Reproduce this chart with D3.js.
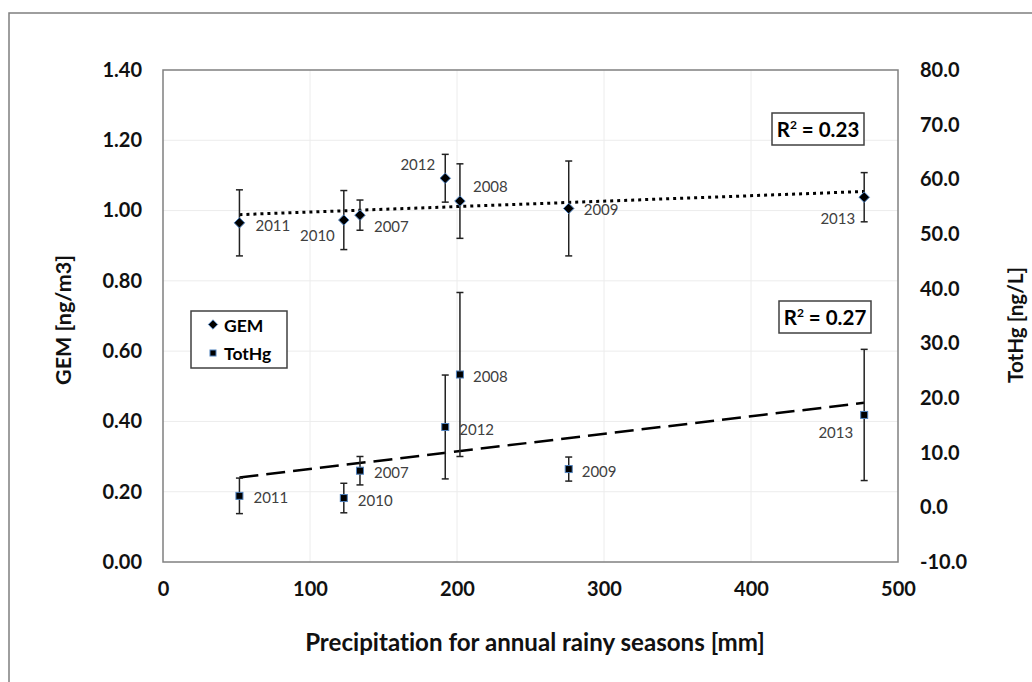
<!DOCTYPE html>
<html><head><meta charset="utf-8">
<script src="https://cdn.jsdelivr.net/npm/d3@7"></script>
<style>html,body{margin:0;padding:0;background:#fff;}svg{display:block;}text{font-variant-ligatures:none;}</style>
</head><body>
<svg id="chart" width="1032" height="682"></svg>
<script>
// ---- data ----
const years   = ["2011","2010","2007","2012","2008","2009","2013"];
const precip  = [52, 123, 134, 192, 202, 276, 477];
const gem     = [0.965, 0.973, 0.987, 1.092, 1.027, 1.006, 1.038];
const gemErr  = [0.094, 0.084, 0.043, 0.068, 0.106, 0.135, 0.070];
const totHg   = [2.1, 1.7, 6.7, 14.7, 24.3, 7.0, 16.9];
const totHgErr= [3.25, 2.7, 2.6, 9.5, 15.0, 2.2, 12.0];
const xTicks  = [0, 100, 200, 300, 400, 500];
const yLeftTicks  = [0, 0.2, 0.4, 0.6, 0.8, 1.0, 1.2, 1.4];
const yRightTicks = [-10, 0, 10, 20, 30, 40, 50, 60, 70, 80];
const r2Labels = ["0.23", "0.27"];
const seriesNames = ["GEM", "TotHg"];

const svg = d3.select("#chart");
const L = 163, R = 898, T = 70, B = 562;
const x = d3.scaleLinear().domain([0, 500]).range([L, R]);
const yL = d3.scaleLinear().domain([0, 1.4]).range([B, T]);
const yR = d3.scaleLinear().domain([-10, 80]).range([B, T]);

const tickFont = "Lato, 'Open Sans', sans-serif";
const blue = "#4f81bd";

// scale a text's font size so that it spans the given width
function fit(sel, w) {
  const fs = parseFloat(sel.attr("font-size"));
  const len = sel.node().getComputedTextLength();
  if (len > 0) sel.attr("font-size", (fs * w / len).toFixed(2) + "px");
  return sel;
}

// outer frame
svg.append("rect").attr("x", 9).attr("y", 13).attr("width", 1040).attr("height", 700)
  .attr("fill", "#fff").attr("stroke", "#7f7f7f").attr("stroke-width", 1.5);

// gridlines
const grid = svg.append("g");
grid.selectAll("line.h").data(yLeftTicks.slice(1, -1)).join("line")
  .attr("x1", L).attr("x2", R).attr("y1", d => yL(d)).attr("y2", d => yL(d))
  .attr("stroke", "#ececec").attr("stroke-width", 1);
grid.selectAll("line.v").data(xTicks.slice(1, -1)).join("line")
  .attr("y1", T).attr("y2", B).attr("x1", d => x(d)).attr("x2", d => x(d))
  .attr("stroke", "#ececec").attr("stroke-width", 1);

// plot border
svg.append("rect").attr("x", L).attr("y", T).attr("width", R - L).attr("height", B - T)
  .attr("fill", "none").attr("stroke", "#808080").attr("stroke-width", 1.5);

// axes via d3 axes (labels only)
const fmt2 = d3.format(".2f"), fmt1 = d3.format(".1f");
const axL = svg.append("g").attr("transform", `translate(${L},0)`)
  .call(d3.axisLeft(yL).tickValues(yLeftTicks).tickFormat(fmt2).tickSize(0).tickPadding(21));
const axR = svg.append("g").attr("transform", `translate(${R},0)`)
  .call(d3.axisRight(yR).tickValues(yRightTicks).tickFormat(d => d === 0 ? "0.0" : fmt1(d).replace("−", "-")).tickSize(0).tickPadding(22));
const axB = svg.append("g").attr("transform", `translate(0,${B})`)
  .call(d3.axisBottom(x).tickValues(xTicks).tickFormat(d3.format("d")).tickSize(0).tickPadding(20));
[axL, axR, axB].forEach(a => {
  a.select(".domain").remove();
  a.selectAll("text").attr("font-family", tickFont).attr("font-weight", "bold")
    .attr("font-size", "20px").attr("fill", "#111");
});

// axis titles
fit(svg.append("text").attr("x", 535).attr("y", 651).attr("text-anchor", "middle")
  .attr("font-family", tickFont).attr("font-weight", "bold").attr("font-size", "20px")
  .attr("fill", "#111").text("Precipitation for annual rainy seasons [mm]"), 460);
fit(svg.append("text").attr("transform", "translate(71,320) rotate(-90)").attr("text-anchor", "middle")
  .attr("font-family", tickFont).attr("font-weight", "bold").attr("font-size", "19px")
  .attr("fill", "#111").text("GEM [ng/m3]"), 130);
fit(svg.append("text").attr("transform", "translate(1023,325) rotate(-90)").attr("text-anchor", "middle")
  .attr("font-family", tickFont).attr("font-weight", "bold").attr("font-size", "19px")
  .attr("fill", "#111").text("TotHg [ng/L]"), 116);

// regression helper
function linreg(xs, ys) {
  const mx = d3.mean(xs), my = d3.mean(ys);
  const sxy = d3.sum(xs, (v, i) => (v - mx) * (ys[i] - my));
  const sxx = d3.sum(xs, v => (v - mx) ** 2);
  const b = sxy / sxx; return v => my + b * (v - mx);
}
const xMin = d3.min(precip), xMax = d3.max(precip);
const fG = linreg(precip, gem), fT = linreg(precip, totHg);
svg.append("line").attr("x1", x(xMin)).attr("x2", x(xMax)).attr("y1", yL(fG(xMin))).attr("y2", yL(fG(xMax)))
  .attr("stroke", "#000").attr("stroke-width", 3).attr("stroke-dasharray", "3 4");
svg.append("line").attr("x1", x(xMin)).attr("x2", x(xMax)).attr("y1", yR(fT(xMin))).attr("y2", yR(fT(xMax)))
  .attr("stroke", "#000").attr("stroke-width", 2.5).attr("stroke-dasharray", "19 8");

// error bars
function errBars(vals, errs, ys) {
  const g = svg.append("g").attr("stroke", "#222").attr("stroke-width", 1.5);
  precip.forEach((p, i) => {
    const cx = x(p), y1 = ys(vals[i] + errs[i]), y2 = ys(vals[i] - errs[i]);
    g.append("line").attr("x1", cx).attr("x2", cx).attr("y1", y1).attr("y2", y2);
    g.append("line").attr("x1", cx - 3.5).attr("x2", cx + 3.5).attr("y1", y1).attr("y2", y1);
    g.append("line").attr("x1", cx - 3.5).attr("x2", cx + 3.5).attr("y1", y2).attr("y2", y2);
  });
}
errBars(gem, gemErr, yL);
errBars(totHg, totHgErr, yR);

// markers
const diamond = d3.symbol().type(d3.symbolDiamond2).size(70);
svg.append("g").selectAll("path").data(precip).join("path")
  .attr("d", diamond).attr("transform", (d, i) => `translate(${x(d)},${yL(gem[i])})`)
  .attr("fill", "#000").attr("stroke", blue).attr("stroke-width", 1);
svg.append("g").selectAll("rect").data(precip).join("rect")
  .attr("x", d => x(d) - 3.5).attr("y", (d, i) => yR(totHg[i]) - 3.5).attr("width", 7).attr("height", 7)
  .attr("fill", "#000").attr("stroke", blue).attr("stroke-width", 1);

// data labels (placement offsets per year)
const gemLab = {"2011":[16,2,"start"],"2010":[-9,15,"end"],"2007":[14,11,"start"],"2012":[-10,-14,"end"],
  "2008":[13,-15,"start"],"2009":[15,1,"start"],"2013":[-9,21,"end"]};
const hgLab = {"2011":[14,1,"start"],"2010":[14,2,"start"],"2007":[14,1,"start"],"2012":[14,2,"start"],
  "2008":[13,2,"start"],"2009":[13,2,"start"],"2013":[-11,17,"end"]};
function labels(vals, ys, off) {
  svg.append("g").selectAll("text").data(years).join("text")
    .attr("x", (d, i) => x(precip[i]) + off[d][0])
    .attr("y", (d, i) => ys(vals[i]) + off[d][1])
    .attr("text-anchor", d => off[d][2]).attr("dominant-baseline", "central")
    .attr("font-family", tickFont).attr("font-size", "15px").attr("fill", "#404040")
    .text(d => d);
}
labels(gem, yL, gemLab);
labels(totHg, yR, hgLab);

// R² boxes
function r2Box(x0, y0, w, h, val) {
  svg.append("rect").attr("x", x0).attr("y", y0).attr("width", w).attr("height", h)
    .attr("fill", "#fff").attr("stroke", "#404040").attr("stroke-width", 1.5);
  const t = svg.append("text").attr("x", x0 + w / 2).attr("y", y0 + h / 2 + 7.5).attr("text-anchor", "middle")
    .attr("font-family", tickFont).attr("font-weight", "bold").attr("font-size", "20.5px").attr("fill", "#000");
  t.append("tspan").text("R");
  t.append("tspan").attr("font-size", "12px").attr("dy", -8).text("2");
  t.append("tspan").attr("dy", 8).text(" = " + val);
}
r2Box(772, 113, 92, 32, r2Labels[0]);
r2Box(779, 301, 92, 32, r2Labels[1]);

// legend
const lg = svg.append("g");
lg.append("rect").attr("x", 191).attr("y", 311).attr("width", 96).attr("height", 57)
  .attr("fill", "#fff").attr("stroke", "#404040").attr("stroke-width", 1.5);
lg.append("path").attr("d", d3.symbol().type(d3.symbolDiamond2).size(55)).attr("transform", "translate(213,324.5)")
  .attr("fill", "#000").attr("stroke", blue);
lg.append("rect").attr("x", 210).attr("y", 350).attr("width", 6).attr("height", 6)
  .attr("fill", "#000").attr("stroke", blue);
lg.selectAll("text").data(seriesNames).join("text")
  .attr("x", 224).attr("y", (d, i) => 325 + i * 28).attr("dominant-baseline", "central")
  .attr("font-family", tickFont).attr("font-weight", "bold").attr("font-size", "17.5px").attr("fill", "#000")
  .text(d => d);
</script>
</body></html>
